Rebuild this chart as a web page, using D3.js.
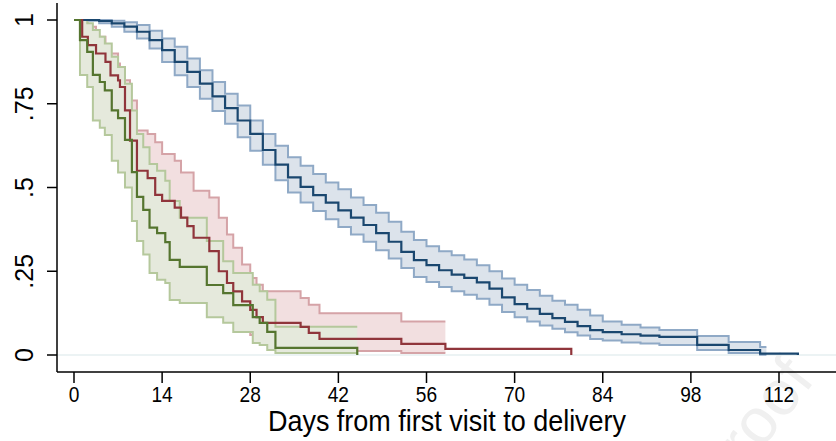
<!DOCTYPE html>
<html>
<head>
<meta charset="utf-8">
<script src="https://cdn.jsdelivr.net/npm/d3@7"></script>
<style>
  body { margin: 0; background: #fff; }
  text { font-family: "Liberation Sans", Arial, sans-serif; }
</style>
</head>
<body>
<svg id="chart" width="836" height="441"></svg>
<script>
// Kaplan-Meier estimates with 95% bands
const blueTime = [0,2,4,6,8,10,12,14,16,18,20,22,24,26,28,30,32,34,36,38,40,42,44,46,48,50,52,54,56,58,60,62,64,66,68,70,72,74,76,78,80,82,84,87,90,93,99,104,109,115];
const blueEst = [1,1,.997,.99,.98,.965,.94,.91,.875,.845,.81,.772,.737,.70,.66,.612,.568,.53,.502,.477,.455,.432,.41,.388,.364,.338,.308,.283,.268,.253,.24,.23,.217,.198,.172,.152,.138,.123,.11,.099,.086,.074,.068,.062,.058,.054,.03,.015,.004,0];
const blueHi = [1,1,1,.998,.993,.985,.968,.945,.92,.885,.85,.815,.78,.745,.70,.66,.625,.59,.565,.54,.515,.495,.47,.448,.425,.398,.368,.343,.325,.31,.298,.285,.268,.25,.228,.21,.194,.177,.162,.15,.135,.118,.10,.09,.082,.075,.057,.039,.024,null];
const blueLo = [1,.998,.99,.98,.965,.945,.915,.875,.835,.80,.765,.728,.69,.65,.61,.568,.522,.485,.455,.43,.405,.382,.36,.338,.313,.288,.26,.233,.218,.203,.19,.18,.168,.15,.128,.113,.10,.088,.078,.068,.058,.048,.043,.037,.034,.03,.015,.006,.001,null];

const redTime = [0,1.3,2.2,3.5,5,5.8,7.0,7.3,8.1,8.9,10,11.7,12.9,14,16,17,18,19,21.5,23,24.3,25.3,26.7,28,29,30,36,37.3,39,52,59,79];
const redEst = [1,.95,.925,.9,.875,.835,.82,.80,.73,.64,.55,.528,.478,.46,.44,.41,.385,.35,.31,.25,.215,.19,.16,.135,.113,.096,.084,.066,.048,.033,.018,0];
const redHi = [1,.99,.98,.95,.92,.90,.87,.86,.82,.76,.67,.66,.635,.60,.58,.545,.545,.49,.47,.41,.36,.32,.27,.23,.21,.19,.17,.15,.125,.10,null,null];
const redLo = [1,.87,.84,.81,.78,.74,.72,.70,.63,.535,.445,.42,.37,.35,.33,.30,.275,.24,.205,.15,.12,.10,.08,.06,.045,.035,.03,.02,.012,.006,null,null];

const greenTime = [0,.95,2.1,3.0,4.1,4.9,6.0,7.0,8.1,9.2,10,11,12,13.2,14.5,15.2,16.8,21.1,23.7,25.3,28.4,29.5,30.7,32,45];
const greenEst = [1,.94,.905,.836,.815,.79,.73,.707,.642,.546,.472,.433,.38,.364,.337,.284,.263,.209,.185,.149,.113,.096,.069,.021,0];
const greenHi = [1,1,.99,.97,.95,.93,.89,.86,.81,.73,.66,.62,.57,.55,.52,.46,.41,.34,.28,.245,.21,.19,.165,.084,null];
const greenLo = [1,.836,.80,.70,.678,.657,.58,.545,.50,.40,.34,.30,.245,.225,.215,.164,.155,.113,.096,.069,.036,.03,.015,.006,null];

const xTicks = [0, 14, 28, 42, 56, 70, 84, 98, 112];
const yTicks = [0, .25, .5, .75, 1];
const yTickLabels = ['0', '.25', '.5', '.75', '1'];
const xTitle = 'Days from first visit to delivery';

const groups = [
    { time: blueTime, est: blueEst, hi: blueHi, lo: blueLo, ciEnd: 110,
      line: '#1a476f', edge: '#8fa9c6', fill: '#dce3eb' },
    { time: redTime, est: redEst, hi: redHi, lo: redLo, ciEnd: 59,
      line: '#90353b', edge: '#d5a3a7', fill: '#f2dfe0' },
    { time: greenTime, est: greenEst, hi: greenHi, lo: greenLo, ciEnd: 45,
      line: '#55752f', edge: '#b5c89c', fill: '#e5e9dc' }
];

const svg = d3.select('#chart');
const W = 836;
const axisLeft = 57, axisBottom = 372, axisTop = 3;

const x = d3.scaleLinear().domain([0, 112]).range([74, 779]);
const y = d3.scaleLinear().domain([0, 1]).range([355, 20]);

// faint watermark at the bottom right
svg.append('text')
    .attr('transform', 'translate(816,380) rotate(-52)')
    .attr('text-anchor', 'end')
    .attr('font-size', 64)
    .attr('fill', '#f0f0f0')
    .text('Journal Pre-proof');

// zero gridline
svg.append('line')
    .attr('x1', axisLeft).attr('x2', W)
    .attr('y1', y(0)).attr('y2', y(0))
    .attr('stroke', '#e6eff1')
    .attr('stroke-width', 1.5);

const line = d3.line()
    .x(d => x(d[0]))
    .y(d => y(d[1]))
    .curve(d3.curveStepAfter);

const area = d3.area()
    .x(d => x(d[0]))
    .y0(d => y(d[1]))
    .y1(d => y(d[2]))
    .curve(d3.curveStepAfter);

function bandPoints(g) {
    const pts = [];
    g.time.forEach((t, i) => {
        if (t < g.ciEnd) pts.push([t, g.lo[i], g.hi[i]]);
    });
    const last = pts[pts.length - 1];
    pts.push([g.ciEnd, last[1], last[2]]);
    return pts;
}

const plot = svg.append('g');

// each band is filled and outlined in turn, so later bands cover earlier ones
groups.forEach(g => {
    const pts = bandPoints(g);
    plot.append('path')
        .attr('d', area(pts))
        .attr('fill', g.fill)
        .attr('stroke', 'none');
    [1, 2].forEach(k => {
        plot.append('path')
            .attr('d', line(pts.map(p => [p[0], p[k]])))
            .attr('fill', 'none')
            .attr('stroke', g.edge)
            .attr('stroke-width', 2);
    });
});

groups.forEach(g => {
    const pts = g.time.map((t, i) => [t, g.est[i]]);
    plot.append('path')
        .attr('d', line(pts))
        .attr('fill', 'none')
        .attr('stroke', g.line)
        .attr('stroke-width', 2.2);
});

// axes
const ax = svg.append('g').attr('stroke', '#000').attr('stroke-width', 1.5);
ax.append('line')
    .attr('x1', axisLeft).attr('x2', axisLeft)
    .attr('y1', axisTop).attr('y2', axisBottom);
ax.append('line')
    .attr('x1', axisLeft).attr('x2', W)
    .attr('y1', axisBottom).attr('y2', axisBottom);

yTicks.forEach((v, i) => {
    ax.append('line')
        .attr('x1', axisLeft - 10).attr('x2', axisLeft)
        .attr('y1', y(v)).attr('y2', y(v));
    svg.append('text')
        .attr('transform', `translate(33,${y(v)}) rotate(-90)`)
        .attr('text-anchor', 'middle')
        .attr('font-size', 25)
        .text(yTickLabels[i]);
});

xTicks.forEach(v => {
    ax.append('line')
        .attr('x1', x(v)).attr('x2', x(v))
        .attr('y1', axisBottom).attr('y2', axisBottom + 11);
    svg.append('text')
        .attr('transform', `translate(${x(v)},402) scale(0.87,1)`)
        .attr('text-anchor', 'middle')
        .attr('font-size', 22)
        .text(v);
});

svg.append('text')
    .attr('transform', 'translate(447,431) scale(0.93,1)')
    .attr('text-anchor', 'middle')
    .attr('font-size', 29)
    .text(xTitle);
</script>
</body>
</html>
